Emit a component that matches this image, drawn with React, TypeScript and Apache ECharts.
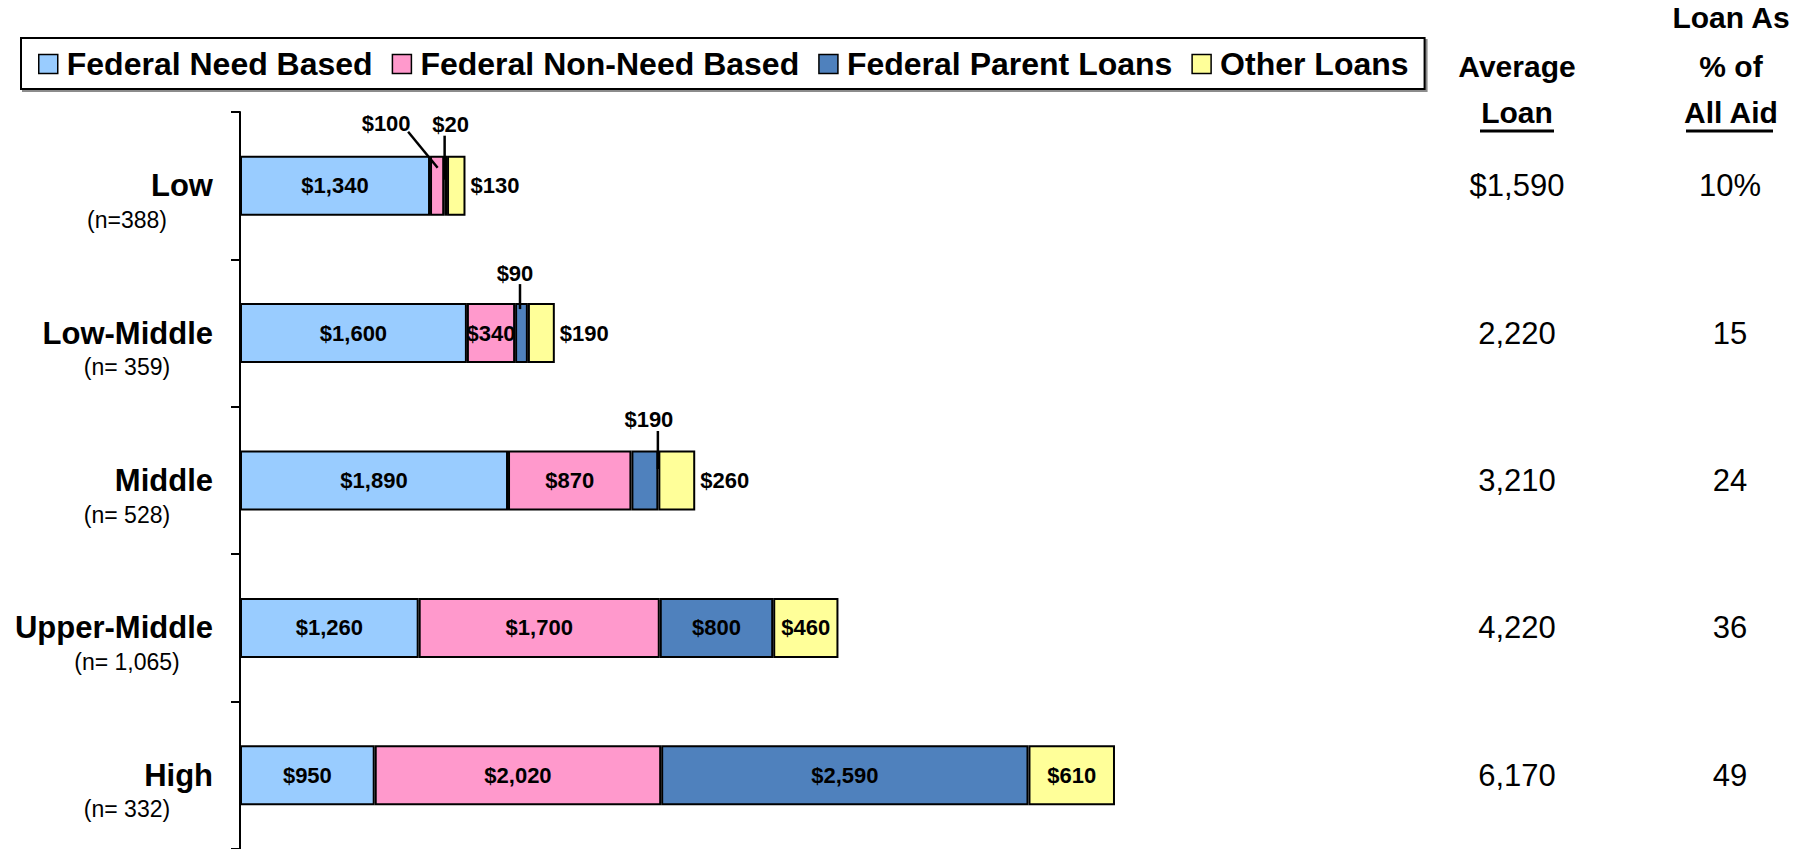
import React, { useEffect, useRef } from "react";
import * as echarts from "echarts";

// ---------- data ----------
const categories = ["Low", "Low-Middle", "Middle", "Upper-Middle", "High"];
const sampleSizes = ["(n=388)", "(n= 359)", "(n= 528)", "(n= 1,065)", "(n= 332)"];
const seriesNames = [
  "Federal Need Based",
  "Federal Non-Need Based",
  "Federal Parent Loans",
  "Other Loans",
];
const needBased = [1340, 1600, 1890, 1260, 950];
const nonNeedBased = [100, 340, 870, 1700, 2020];
const parentLoans = [20, 90, 190, 800, 2590];
const otherLoans = [130, 190, 260, 460, 610];
const averageLoan = [1590, 2220, 3210, 4220, 6170];
const loanPctOfAid = [10, 15, 24, 36, 49];

// ---------- styling ----------
const seriesValues = [needBased, nonNeedBased, parentLoans, otherLoans];
const colors = ["#99CCFF", "#FF99CC", "#4F81BD", "#FFFF99"];
const FONT = "'Liberation Sans', Arial, Helvetica, sans-serif";

// label placement per series (rows) and category (cols)
const labelModes = [
  ["inside", "inside", "inside", "inside", "inside"],
  ["callout", "inside", "inside", "inside", "inside"],
  ["callout", "callout", "callout", "inside", "inside"],
  ["right", "right", "right", "inside", "inside"],
];

// callout geometry: pixel offsets from the segment centre
const calloutGeom: Record<string, { text: number[]; from: number[]; to: number[] }> = {
  "1-0": { text: [-51, -62], from: [-29, -54], to: [0.5, -18] },
  "2-0": { text: [5, -61], from: [-1, -50], to: [-1, -6] },
  "2-1": { text: [-6.5, -60], from: [-1.5, -49], to: [-1.5, -24] },
  "2-2": { text: [4, -61.5], from: [13, -49.5], to: [13, -11.5] },
};

const money = (v: number) => "$" + v.toLocaleString("en-US");

export default function App() {
  const ref = useRef<HTMLDivElement>(null);

  useEffect(() => {
    if (!ref.current) return;
    const chart = echarts.init(ref.current, null, { renderer: "svg" });

    const barSeries = seriesValues.map((vals, s) => ({
      name: seriesNames[s],
      type: "bar",
      stack: "total",
      barWidth: 60,
      z: 2,
      itemStyle: { color: colors[s], borderColor: "#000", borderWidth: 2 },
      data: vals.map((v, c) => {
        const mode = labelModes[s][c];
        return {
          value: v,
          label:
            mode === "callout"
              ? { show: false }
              : {
                  show: true,
                  position: mode === "right" ? "right" : "inside",
                  distance: 5,
                  formatter: () => money(v),
                  fontSize: 22,
                  fontWeight: "bold",
                  color: "#000",
                  fontFamily: FONT,
                },
        };
      }),
    }));

    // callout data computed from the series values
    const calloutData: any[] = [];
    seriesValues.forEach((vals, s) => {
      vals.forEach((v, c) => {
        if (labelModes[s][c] !== "callout") return;
        let start = 0;
        for (let k = 0; k < s; k++) start += seriesValues[k][c];
        calloutData.push([start + v / 2, c, v, s]);
      });
    });

    const option: any = {
      animation: false,
      backgroundColor: "#fff",
      textStyle: { fontFamily: FONT },
      legend: {
        data: seriesNames,
        left: 21,
        top: 38,
        selectedMode: false,
        icon: "rect",
        itemWidth: 19,
        itemHeight: 19,
        itemGap: 19,
        padding: [10, 16, 9, 17],
        borderColor: "#000",
        borderWidth: 2,
        backgroundColor: "#fff",
        shadowColor: "rgba(0,0,0,0.45)",
        shadowOffsetX: 2,
        shadowOffsetY: 2,
        shadowBlur: 0,
        itemStyle: { borderColor: "#000", borderWidth: 1.5 },
        textStyle: {
          fontSize: 32,
          fontWeight: "bold",
          color: "#000",
          fontFamily: FONT,
          lineHeight: 32,
          padding: [0, 0, 0, 4],
        },
      },
      grid: { left: 240, right: 441.5, top: 112, bottom: 0 },
      xAxis: {
        type: "value",
        min: 0,
        max: 8000,
        show: false,
        splitLine: { show: false },
      },
      yAxis: [
        {
          type: "category",
          data: categories,
          inverse: true,
          position: "left",
          axisLine: { show: true, onZero: false, lineStyle: { color: "#000", width: 2 } },
          axisTick: { show: true, length: 9, lineStyle: { color: "#000", width: 2 } },
          axisLabel: {
            fontSize: 31,
            fontWeight: "bold",
            color: "#000",
            margin: 27,
            fontFamily: FONT,
          },
        },
        {
          type: "category",
          data: categories,
          inverse: true,
          position: "left",
          axisLine: { show: false, onZero: false },
          axisTick: { show: false },
          axisLabel: {
            formatter: (_v: string, i: number) => "\n" + sampleSizes[i],
            fontSize: 23,
            lineHeight: 68,
            color: "#000",
            align: "center",
            verticalAlign: "middle",
            margin: 113,
            fontFamily: FONT,
          },
        },
        {
          type: "category",
          data: categories,
          inverse: true,
          position: "right",
          axisLine: { show: false, onZero: false },
          axisTick: { show: false },
          axisLabel: {
            formatter: (_v: string, i: number) =>
              i === 0 ? money(averageLoan[i]) : averageLoan[i].toLocaleString("en-US"),
            fontSize: 31,
            color: "#000",
            align: "center",
            margin: 142.5,
            fontFamily: FONT,
          },
        },
        {
          type: "category",
          data: categories,
          inverse: true,
          position: "right",
          axisLine: { show: false, onZero: false },
          axisTick: { show: false },
          axisLabel: {
            formatter: (_v: string, i: number) =>
              i === 0 ? loanPctOfAid[i] + "%" : String(loanPctOfAid[i]),
            fontSize: 31,
            color: "#000",
            align: "center",
            margin: 355.5,
            fontFamily: FONT,
          },
        },
      ],
      series: [
        ...barSeries,
        {
          type: "custom",
          name: "callouts",
          xAxisIndex: 0,
          yAxisIndex: 0,
          z: 5,
          silent: true,
          encode: { x: 0, y: 1 },
          data: calloutData,
          renderItem: (_params: any, api: any) => {
            const p = api.coord([api.value(0), api.value(1)]);
            const key = api.value(3) + "-" + api.value(1);
            const g = calloutGeom[key];
            if (!g) return null;
            return {
              type: "group",
              children: [
                {
                  type: "line",
                  shape: {
                    x1: p[0] + g.from[0],
                    y1: p[1] + g.from[1],
                    x2: p[0] + g.to[0],
                    y2: p[1] + g.to[1],
                  },
                  style: { stroke: "#000", lineWidth: 2.5 },
                },
                {
                  type: "text",
                  x: p[0] + g.text[0],
                  y: p[1] + g.text[1],
                  style: {
                    text: money(api.value(2)),
                    align: "center",
                    verticalAlign: "middle",
                    fontSize: 22,
                    fontWeight: "bold",
                    fontFamily: FONT,
                    fill: "#000",
                  },
                },
              ],
            };
          },
        },
      ],
      graphic: [
        { type: "text", x: 1731, y: 17, style: { text: "Loan As", align: "center", verticalAlign: "middle", fontSize: 30, fontWeight: "bold", fontFamily: FONT, fill: "#000" } },
        { type: "text", x: 1517, y: 66, style: { text: "Average", align: "center", verticalAlign: "middle", fontSize: 30, fontWeight: "bold", fontFamily: FONT, fill: "#000" } },
        { type: "text", x: 1731, y: 66, style: { text: "% of", align: "center", verticalAlign: "middle", fontSize: 30, fontWeight: "bold", fontFamily: FONT, fill: "#000" } },
        { type: "text", x: 1517, y: 112, style: { text: "Loan", align: "center", verticalAlign: "middle", fontSize: 30, fontWeight: "bold", fontFamily: FONT, fill: "#000" } },
        { type: "text", x: 1731, y: 112, style: { text: "All Aid", align: "center", verticalAlign: "middle", fontSize: 30, fontWeight: "bold", fontFamily: FONT, fill: "#000" } },
        { type: "line", shape: { x1: 1480, y1: 131, x2: 1554, y2: 131 }, style: { stroke: "#000", lineWidth: 3 } },
        { type: "line", shape: { x1: 1686, y1: 131, x2: 1773, y2: 131 }, style: { stroke: "#000", lineWidth: 3 } },
      ],
    };

    chart.setOption(option);
    return () => chart.dispose();
  }, []);

  return (
    <div
      ref={ref}
      style={{ position: "fixed", left: 0, top: 0, width: 1816, height: 849, background: "#fff" }}
    />
  );
}
